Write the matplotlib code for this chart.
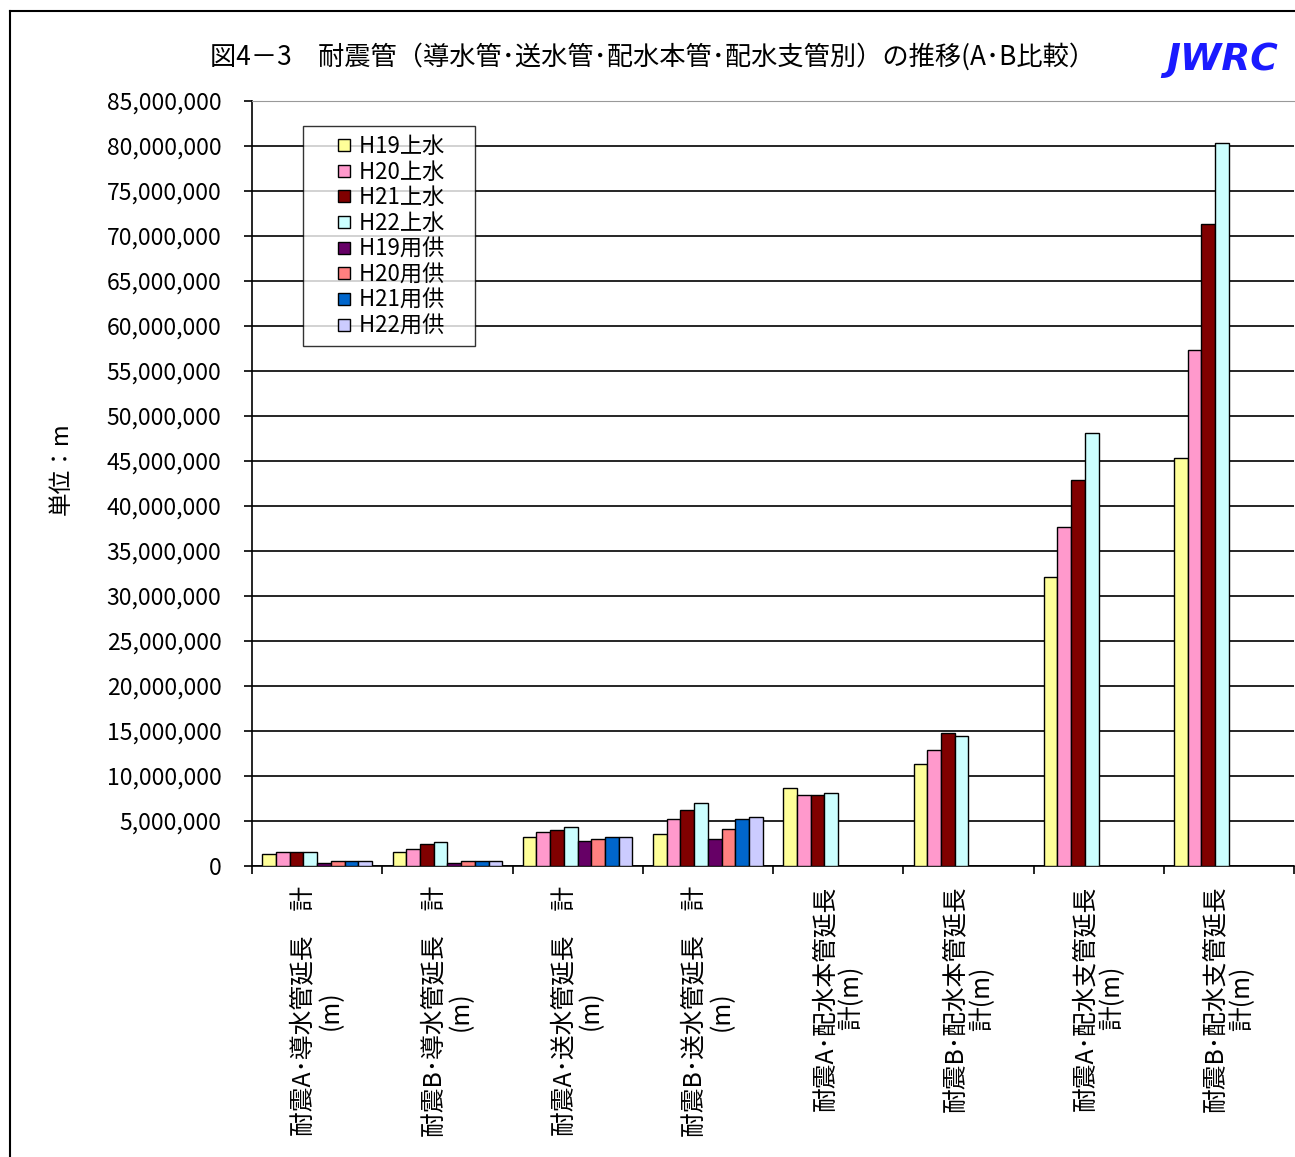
import numpy as np
import matplotlib
matplotlib.use("Agg")
import matplotlib.pyplot as plt
from matplotlib.lines import Line2D
from matplotlib.ticker import FuncFormatter, MultipleLocator

plt.rcParams['font.family'] = ['Noto Sans CJK JP', 'DejaVu Sans']

# Data (m)
categories = [
    "耐震A･導水管延長　計\n(m)",
    "耐震B･導水管延長　計\n(m)",
    "耐震A･送水管延長　計\n(m)",
    "耐震B･送水管延長　計\n(m)",
    "耐震A･配水本管延長\n計(m)",
    "耐震B･配水本管延長\n計(m)",
    "耐震A･配水支管延長\n計(m)",
    "耐震B･配水支管延長\n計(m)",
]
series_names = ["H19上水", "H20上水", "H21上水", "H22上水",
                "H19用供", "H20用供", "H21用供", "H22用供"]
colors = ["#FFFF99", "#FF99CC", "#800000", "#CCFFFF",
          "#660066", "#FF8080", "#0066CC", "#CCCCFF"]

h19_jyosui = [1300000, 1520000, 3190000, 3590000, 8660000, 11340000, 32100000, 45300000]
h20_jyosui = [1520000, 1890000, 3740000, 5260000, 7900000, 12860000, 37700000, 57300000]
h21_jyosui = [1520000, 2480000, 3960000, 6190000, 7900000, 14800000, 42900000, 71300000]
h22_jyosui = [1520000, 2630000, 4330000, 6960000, 8100000, 14430000, 48100000, 80300000]
h19_yokyo = [370000, 370000, 2810000, 3000000, None, None, None, None]
h20_yokyo = [550000, 550000, 3000000, 4110000, None, None, None, None]
h21_yokyo = [550000, 550000, 3190000, 5260000, None, None, None, None]
h22_yokyo = [550000, 550000, 3190000, 5480000, None, None, None, None]

all_series = [h19_jyosui, h20_jyosui, h21_jyosui, h22_jyosui,
              h19_yokyo, h20_yokyo, h21_yokyo, h22_yokyo]

fig = plt.figure(figsize=(12.95, 11.57), dpi=100)
ax = fig.add_axes([252 / 1295, 1 - 866 / 1157, 1042 / 1295, 765 / 1157])

n = len(series_names)
bar_w = 1.0 / (n + 1.5)
x0 = np.arange(len(categories))
for i, (name, vals, c) in enumerate(zip(series_names, all_series, colors)):
    v = np.array([np.nan if a is None else a for a in vals], dtype=float)
    xs = x0 + 0.75 * bar_w + (i + 0.5) * bar_w
    ax.bar(xs, v, width=bar_w, color=c, edgecolor="black", linewidth=1.0,
           label=name, zorder=3)

ax.set_xlim(0, len(categories))
ax.set_ylim(0, 85000000)
ax.yaxis.set_major_locator(MultipleLocator(5000000))
ax.yaxis.set_major_formatter(FuncFormatter(lambda v, p: f"{int(v):,}"))
ax.grid(axis="y", color="black", linewidth=1.2, zorder=0)

# category boundary ticks (no labels), labels at centers
ax.set_xticks(np.arange(len(categories) + 1))
ax.set_xticklabels([])
ax.set_xticks(x0 + 0.5, minor=True)
ax.set_xticklabels(categories, minor=True, rotation=90, va="top", ha="center",
                   multialignment="center", fontsize=17.8, linespacing=1.05)
ax.tick_params(axis="x", which="major", length=6, width=1.2, direction="out")
ax.tick_params(axis="x", which="minor", length=0, pad=14)
ax.tick_params(axis="y", length=6, width=1.2, pad=16, labelsize=16.5)

for s in ["left", "bottom"]:
    ax.spines[s].set_linewidth(1.2)
ax.spines["top"].set_color("#999999")
ax.spines["right"].set_visible(False)

ax.set_ylabel("単位：m", fontsize=17)
ax.yaxis.set_label_coords(-0.172, 0.52)

# legend with square markers centred in a wider handle area
handles = [Line2D([], [], linestyle="none", marker="s", markersize=9,
                  markerfacecolor=c, markeredgecolor="black", markeredgewidth=1.0)
           for c in colors]
leg = ax.legend(handles, [s + "　" for s in series_names], loc="upper left",
                bbox_to_anchor=(303 / 1295, 1 - 126 / 1157),
                bbox_transform=fig.transFigure, fontsize=16, frameon=True,
                fancybox=False, handlelength=2.9, handletextpad=-0.8,
                labelspacing=0.12, borderpad=0.4, borderaxespad=0)
leg.get_frame().set_edgecolor("black")
leg.get_frame().set_linewidth(1.0)

fig.text(653 / 1295, 1 - 57 / 1157,
         "図4－3　耐震管（導水管･送水管･配水本管･配水支管別）の推移(A･B比較）",
         ha="center", va="center", fontsize=18.9)
fig.text(1222 / 1295, 1 - 60 / 1157, "JWRC", ha="center", va="center",
         fontsize=27, fontweight="bold", fontstyle="italic", color="#1A1AFF",
         family="DejaVu Sans")

# outer chart frame
fig.add_artist(Line2D([10 / 1295, 10 / 1295], [0, 1 - 11 / 1157],
                      transform=fig.transFigure, color="black", linewidth=1.5))
fig.add_artist(Line2D([10 / 1295, 1], [1 - 11 / 1157, 1 - 11 / 1157],
                      transform=fig.transFigure, color="black", linewidth=1.5))

fig.savefig("out.png", dpi=100)
